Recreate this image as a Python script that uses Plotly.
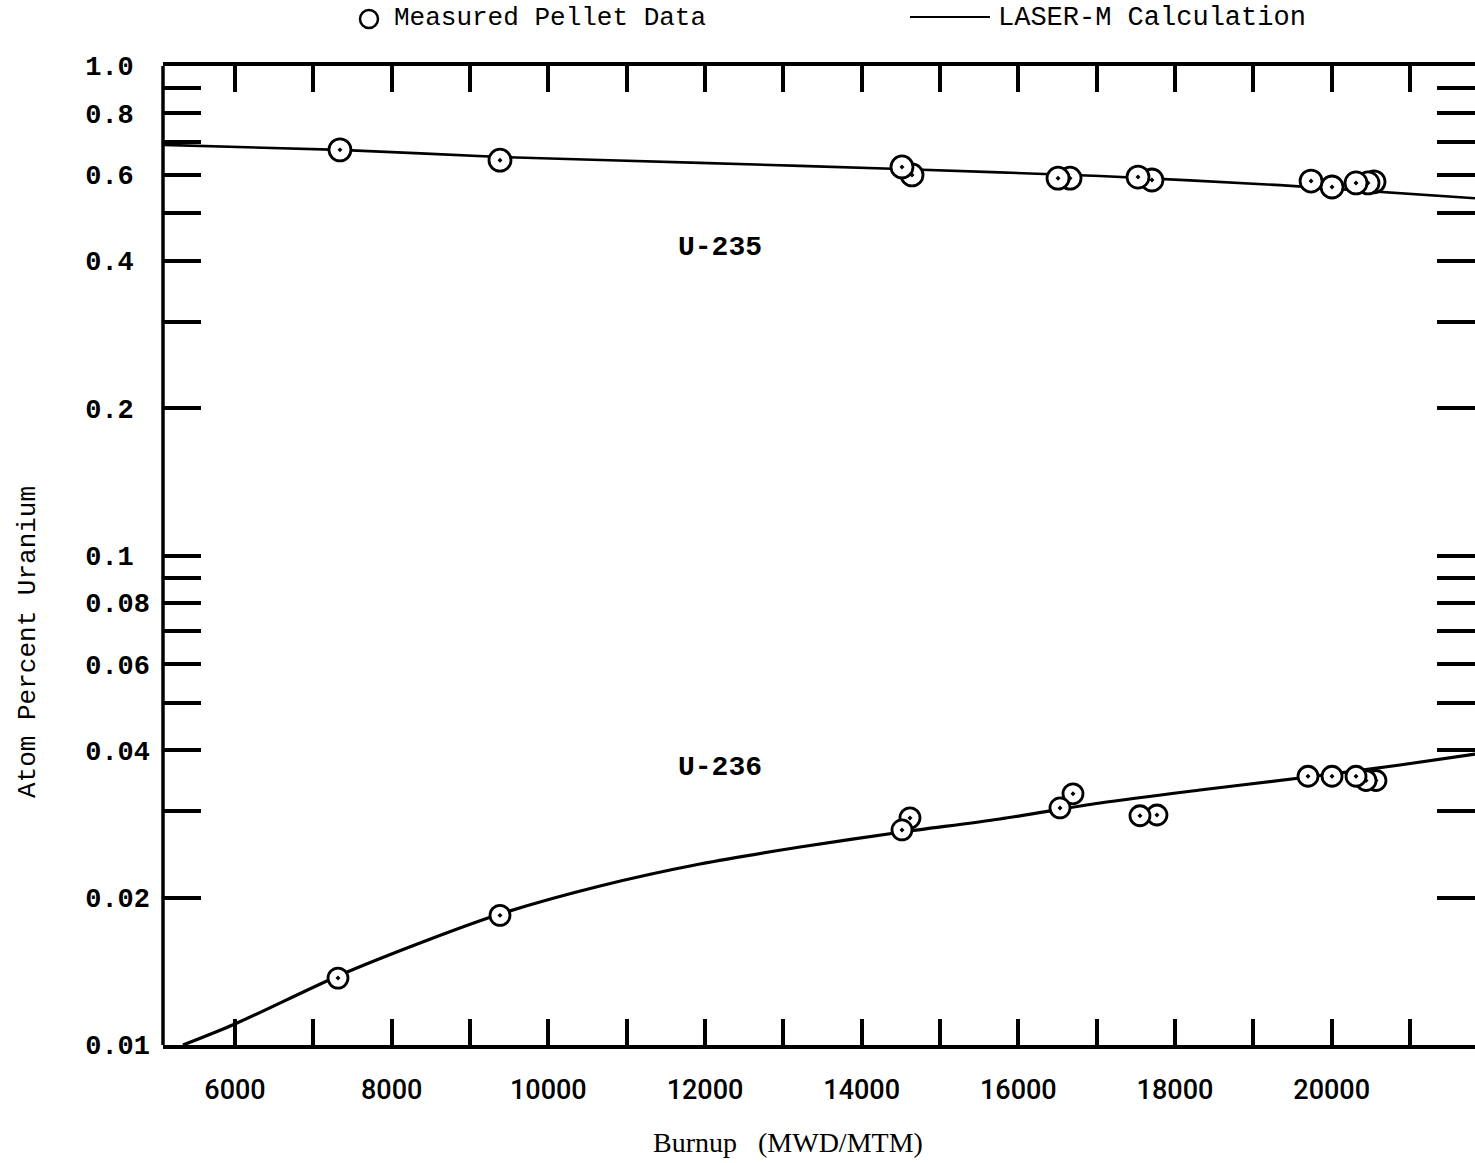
import plotly.graph_objects as go

# Measured pellet data (burnup in MWD/MTM, atom percent of uranium)
u235_burnup = [7340, 9383, 14515, 14643, 16507, 16660, 17528, 17706, 19737, 20005, 20311, 20464, 20541]
u235_atom_pct = [0.674, 0.642, 0.622, 0.599, 0.590, 0.590, 0.593, 0.585, 0.582, 0.566, 0.577, 0.577, 0.580]

u236_burnup = [7315, 9383, 14515, 14617, 16532, 16698, 17553, 17770, 19698, 20005, 20311, 20439, 20566]
u236_atom_pct = [0.0137, 0.0184, 0.0275, 0.0291, 0.0305, 0.0326, 0.0294, 0.0295, 0.0354, 0.0354, 0.0354, 0.0347, 0.0347]

# LASER-M calculated curves
calc_u235_burnup = [5081, 7340, 9383, 11936, 14489, 17043, 19340, 21830]
calc_u235_atom_pct = [0.690, 0.674, 0.652, 0.634, 0.616, 0.596, 0.571, 0.537]

calc_u236_burnup = [5336, 6000, 7315, 8362, 9383, 10660, 11936, 13213, 14515,
                    15766, 17043, 18319, 19596, 20872, 21830]
calc_u236_atom_pct = [0.0100, 0.01104, 0.01384, 0.01616, 0.01852, 0.02113, 0.02343, 0.02538,
                      0.02723, 0.02895, 0.03122, 0.03318, 0.03511, 0.03733, 0.03930]

# Axis ticks
x_tick_vals = list(range(6000, 22000, 1000))
x_tick_text = [str(v) if v % 2000 == 0 else "" for v in x_tick_vals]

y_tick_vals = [0.01, 0.02, 0.03, 0.04, 0.05, 0.06, 0.07, 0.08, 0.09,
               0.1, 0.2, 0.3, 0.4, 0.5, 0.6, 0.7, 0.8, 0.9, 1.0]
y_labelled = {0.01: "0.01", 0.02: "0.02", 0.04: "0.04", 0.06: "0.06", 0.08: "0.08",
              0.1: "0.1", 0.2: "0.2", 0.4: "0.4", 0.6: "0.6", 0.8: "0.8", 1.0: "1.0"}
# pad to a common width so the monospace labels line up on the left
y_tick_text = [y_labelled[v].ljust(4, "\u00a0") if v in y_labelled else "" for v in y_tick_vals]

W, H = 1475, 1163
L, R, T, B = 163, 0, 66, 118
PW, PH = W - L - R, H - T - B


def px(xp):
    return (xp - L) / PW


def py(yp):
    return (H - B - yp) / PH


MONO = "Liberation Mono, Courier New, monospace"
SERIF = "Liberation Serif, Times New Roman, serif"

marker_style = dict(symbol="circle-dot", color="white", line=dict(color="black", width=2.8))

fig = go.Figure()

fig.add_trace(go.Scatter(x=calc_u235_burnup, y=calc_u235_atom_pct, mode="lines",
                         line=dict(color="black", width=2.6, shape="spline", smoothing=0.6),
                         name="LASER-M Calculation", showlegend=False))
fig.add_trace(go.Scatter(x=calc_u236_burnup, y=calc_u236_atom_pct, mode="lines",
                         line=dict(color="black", width=3.2, shape="spline", smoothing=0.8),
                         name="LASER-M Calculation", showlegend=False))

# draw higher-burnup pellets first so lower-burnup circles sit on top
fig.add_trace(go.Scatter(x=u235_burnup[::-1], y=u235_atom_pct[::-1], mode="markers",
                         marker=dict(size=22, **marker_style),
                         name="Measured Pellet Data", showlegend=False))
fig.add_trace(go.Scatter(x=u236_burnup[::-1], y=u236_atom_pct[::-1], mode="markers",
                         marker=dict(size=20, **marker_style),
                         name="Measured Pellet Data", showlegend=False))

fig.update_xaxes(
    range=[5081, 21830],
    tickmode="array", tickvals=x_tick_vals, ticktext=x_tick_text,
    ticks="inside", ticklen=26, tickwidth=3.5, tickcolor="black",
    showline=True, linecolor="black", linewidth=3.5, mirror="ticks",
    showgrid=False, zeroline=False,
    ticklabelstandoff=18,
    tickfont=dict(family="Roboto, Liberation Sans, sans-serif", size=27, color="black", weight=500),
)
fig.update_yaxes(
    type="log", range=[-2, 0],
    tickmode="array", tickvals=y_tick_vals, ticktext=y_tick_text,
    ticks="inside", ticklen=38, tickwidth=3.5, tickcolor="black",
    showline=False, mirror="ticks",
    showgrid=False, zeroline=False,
    ticklabelstandoff=12,
    tickfont=dict(family=MONO, size=27, color="black", weight="bold"),
)

shapes = [
    # left frame
    dict(type="line", xref="paper", yref="paper", x0=0, x1=0, y0=0, y1=1,
         line=dict(color="black", width=3.5)),
    # legend symbol for measured data
    dict(type="circle", xref="paper", yref="paper", x0=px(360), x1=px(378), y0=py(28), y1=py(10),
         line=dict(color="black", width=2.5), fillcolor="white"),
    # legend line sample
    dict(type="line", xref="paper", yref="paper", x0=px(910), x1=px(990), y0=py(17), y1=py(17),
         line=dict(color="black", width=2)),
]

annotations = [
    dict(text="Measured Pellet Data", x=px(392), y=py(18), xanchor="left", yanchor="middle",
         font=dict(family=MONO, size=26, color="black")),
    dict(text="LASER-M Calculation", x=px(996), y=py(18), xanchor="left", yanchor="middle",
         font=dict(family=MONO, size=27, color="black")),
    dict(text="U-235", x=px(720), y=py(248), xanchor="center", yanchor="middle",
         font=dict(family=MONO, size=28, color="black", weight="bold")),
    dict(text="U-236", x=px(720), y=py(767), xanchor="center", yanchor="middle",
         font=dict(family=MONO, size=28, color="black", weight="bold")),
    dict(text="Atom Percent Uranium", x=px(28), y=py(642), xanchor="center", yanchor="middle",
         textangle=-90, font=dict(family=MONO, size=26, color="black")),
    dict(text="Burnup\u00a0\u00a0\u00a0(MWD/MTM)", x=px(788), y=py(1142), xanchor="center",
         yanchor="middle", font=dict(family=SERIF, size=28, color="black")),
]
for a in annotations:
    a.update(xref="paper", yref="paper", showarrow=False)

fig.update_layout(
    width=W, height=H,
    margin=dict(l=L, r=R, t=T, b=B, pad=0),
    paper_bgcolor="white", plot_bgcolor="white",
    shapes=shapes, annotations=annotations,
    showlegend=False,
)

fig.write_html("out.html")
